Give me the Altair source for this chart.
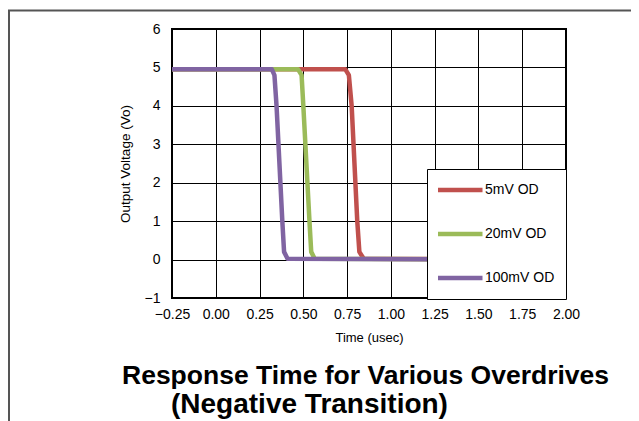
import altair as alt
import pandas as pd

# ---- data ----
series_names = ["5mV OD", "20mV OD", "100mV OD"]
series_colors = ["#C0504D", "#9BBB59", "#8064A2"]

time_5mV = [-0.25, 0.74, 0.76, 0.776, 0.808, 0.82, 0.845, 2.0]
volt_5mV = [4.95, 4.95, 4.8, 4.0, 1.0, 0.2, 0.02, 0.0]

time_20mV = [-0.25, 0.47, 0.49, 0.50, 0.535, 0.545, 0.565, 2.0]
volt_20mV = [4.95, 4.95, 4.8, 4.0, 1.0, 0.2, 0.02, 0.0]

time_100mV = [-0.25, 0.0, 0.32, 0.335, 0.347, 0.38, 0.39, 0.41, 2.0]
volt_100mV = [4.95, 4.95, 4.95, 4.8, 4.0, 1.0, 0.2, 0.02, 0.0]

x_ticks = [-0.25, 0.0, 0.25, 0.5, 0.75, 1.0, 1.25, 1.5, 1.75, 2.0]
y_ticks = [-1, 0, 1, 2, 3, 4, 5, 6]

title_line1 = "Response Time for Various Overdrives"
title_line2 = "(Negative Transition)"

rows = []
for name, ts, vs in zip(series_names,
                        [time_5mV, time_20mV, time_100mV],
                        [volt_5mV, volt_20mV, volt_100mV]):
    for i, (t, v) in enumerate(zip(ts, vs)):
        rows.append({"series": name, "t": t, "v": v, "i": i})
df = pd.DataFrame(rows)

FONT = "Liberation Sans"
W, H = 394, 269

lines = alt.Chart(df).mark_line(strokeWidth=4.5, strokeJoin="round", strokeCap="butt").encode(
    x=alt.X("t:Q", scale=alt.Scale(domain=[-0.25, 2.0], nice=False, zero=False),
            axis=alt.Axis(values=x_ticks, format=".2f", title="Time (usec)",
                          grid=True, gridColor="black", gridOpacity=1, gridWidth=1,
                          ticks=False, domain=False, labelFontSize=14, labelFont=FONT,
                          labelColor="black", labelPadding=9, titleFont=FONT,
                          titleFontSize=13, titleFontWeight="normal", titleColor="black",
                          titlePadding=10, labelFlush=False)),
    y=alt.Y("v:Q", scale=alt.Scale(domain=[-1, 6], nice=False, zero=False),
            axis=alt.Axis(values=y_ticks, format="d", title="Output Voltage (Vo)",
                          grid=True, gridColor="black", gridOpacity=1, gridWidth=1,
                          ticks=False, domain=False, labelFontSize=14, labelFont=FONT,
                          labelColor="black", labelPadding=12, titleFont=FONT,
                          titleFontSize=13.5, titleFontWeight="normal", titleColor="black",
                          titlePadding=12)),
    color=alt.Color("series:N",
                    scale=alt.Scale(domain=series_names, range=series_colors),
                    sort=series_names,
                    legend=alt.Legend(title=None, orient="none", legendX=255, legendY=140,
                                      fillColor="white", strokeColor="black",
                                      padding=11, symbolType="stroke", symbolSize=2025,
                                      symbolStrokeWidth=4.5, symbolOffset=-3,
                                      clipHeight=20, labelFontSize=14, labelFont=FONT,
                                      labelColor="black", labelOffset=0, rowPadding=24)),
    order=alt.Order("i:Q"),
)

titles = pd.DataFrame({"txt": [title_line1, title_line2],
                       "px": [122 - 172, 171 - 172],
                       "py": [384 - 29, 413 - 29],
                       "fs": [26.5, 28]})
title_marks = alt.Chart(titles).mark_text(
    align="left", baseline="alphabetic", font=FONT, fontWeight="bold", color="black"
).encode(text="txt:N", x=alt.X("px:Q", scale=None), y=alt.Y("py:Q", scale=None),
         size=alt.Size("fs:Q", scale=None, legend=None))

# page frame lines (decoration around the figure)
frame_h = alt.Chart(pd.DataFrame({"k": [0]})).mark_rule(color="#555555", strokeWidth=2).encode(
    x=alt.value(-164), x2=alt.value(W + 65), y=alt.value(-18.5))
frame_v = alt.Chart(pd.DataFrame({"k": [0]})).mark_rule(color="#555555", strokeWidth=2).encode(
    x=alt.value(-163), y=alt.value(-18.5), y2=alt.value(H + 123))

chart = alt.layer(frame_h, frame_v, lines, title_marks).properties(
    width=W, height=H,
    autosize=alt.AutoSizeParams(type="none"),
    padding={"left": 164, "top": 21, "right": 65, "bottom": 123},
).configure_view(stroke="black", strokeWidth=2)

chart.save("out.html", embed_options={"renderer": "svg", "actions": False})
